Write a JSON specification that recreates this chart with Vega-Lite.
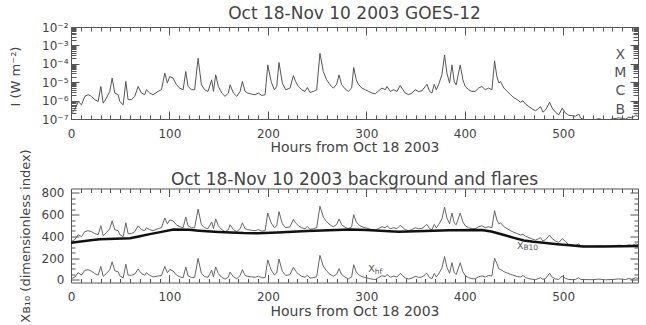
{
  "$schema": "https://vega.github.io/schema/vega-lite/v6.json",
  "background": "white",
  "padding": {"left": 8, "top": 4, "right": 6, "bottom": 2},
  "spacing": 69.5,
  "bounds": "flush",
  "datasets": {
    "goes": [
      {"hour":0.5,"logI":-6.68,"xb10":352,"xhf":11},
      {"hour":3.9,"logI":-6.50,"xb10":370,"xhf":25},
      {"hour":7.3,"logI":-6.05,"xb10":415,"xhf":66},
      {"hour":10.7,"logI":-6.23,"xb10":397,"xhf":44},
      {"hour":14.0,"logI":-5.77,"xb10":443,"xhf":87},
      {"hour":17.4,"logI":-5.68,"xb10":452,"xhf":92},
      {"hour":20.8,"logI":-5.77,"xb10":443,"xhf":79},
      {"hour":24.2,"logI":-5.95,"xb10":425,"xhf":57},
      {"hour":27.6,"logI":-6.05,"xb10":415,"xhf":43},
      {"hour":30.3,"logI":-5.23,"xb10":497,"xhf":123},
      {"hour":32.7,"logI":-6.14,"xb10":406,"xhf":31},
      {"hour":36.0,"logI":-5.86,"xb10":434,"xhf":58},
      {"hour":39.4,"logI":-5.50,"xb10":470,"xhf":93},
      {"hour":41.8,"logI":-4.78,"xb10":542,"xhf":165},
      {"hour":44.5,"logI":-5.59,"xb10":461,"xhf":83},
      {"hour":47.9,"logI":-5.68,"xb10":452,"xhf":73},
      {"hour":49.6,"logI":-6.05,"xb10":415,"xhf":36},
      {"hour":53.0,"logI":-6.23,"xb10":397,"xhf":17},
      {"hour":55.7,"logI":-4.96,"xb10":524,"xhf":143},
      {"hour":58.0,"logI":-5.95,"xb10":425,"xhf":44},
      {"hour":61.4,"logI":-5.95,"xb10":425,"xhf":40},
      {"hour":64.8,"logI":-5.77,"xb10":443,"xhf":52},
      {"hour":68.2,"logI":-5.23,"xb10":497,"xhf":99},
      {"hour":71.6,"logI":-5.59,"xb10":461,"xhf":57},
      {"hour":74.9,"logI":-5.68,"xb10":452,"xhf":42},
      {"hour":76.6,"logI":-5.41,"xb10":479,"xhf":65},
      {"hour":80.0,"logI":-5.59,"xb10":461,"xhf":41},
      {"hour":83.4,"logI":-5.68,"xb10":452,"xhf":26},
      {"hour":88.5,"logI":-5.50,"xb10":470,"xhf":35},
      {"hour":91.9,"logI":-5.41,"xb10":479,"xhf":38},
      {"hour":95.3,"logI":-4.51,"xb10":569,"xhf":122},
      {"hour":97.9,"logI":-5.05,"xb10":515,"xhf":64},
      {"hour":100.3,"logI":-4.69,"xb10":551,"xhf":95},
      {"hour":103.7,"logI":-4.78,"xb10":542,"xhf":81},
      {"hour":107.1,"logI":-5.14,"xb10":506,"xhf":44},
      {"hour":110.5,"logI":-5.32,"xb10":488,"xhf":27},
      {"hour":113.9,"logI":-5.41,"xb10":479,"xhf":18},
      {"hour":116.6,"logI":-4.42,"xb10":578,"xhf":118},
      {"hour":118.9,"logI":-5.23,"xb10":497,"xhf":37},
      {"hour":122.3,"logI":-5.41,"xb10":479,"xhf":21},
      {"hour":125.6,"logI":-5.41,"xb10":479,"xhf":23},
      {"hour":129.1,"logI":-3.70,"xb10":650,"xhf":197},
      {"hour":132.5,"logI":-5.14,"xb10":506,"xhf":56},
      {"hour":135.8,"logI":-5.41,"xb10":479,"xhf":30},
      {"hour":139.2,"logI":-5.50,"xb10":470,"xhf":23},
      {"hour":142.9,"logI":-4.87,"xb10":533,"xhf":89},
      {"hour":144.7,"logI":-5.50,"xb10":470,"xhf":27},
      {"hour":147.0,"logI":-4.60,"xb10":560,"xhf":118},
      {"hour":149.7,"logI":-5.23,"xb10":497,"xhf":57},
      {"hour":153.1,"logI":-5.59,"xb10":461,"xhf":22},
      {"hour":156.5,"logI":-5.77,"xb10":443,"xhf":6},
      {"hour":159.9,"logI":-5.59,"xb10":461,"xhf":25},
      {"hour":161.6,"logI":-5.14,"xb10":506,"xhf":71},
      {"hour":165.0,"logI":-5.59,"xb10":461,"xhf":27},
      {"hour":168.4,"logI":-5.77,"xb10":443,"xhf":10},
      {"hour":171.8,"logI":-5.50,"xb10":470,"xhf":39},
      {"hour":174.1,"logI":-4.96,"xb10":524,"xhf":94},
      {"hour":176.8,"logI":-5.50,"xb10":470,"xhf":40},
      {"hour":179.5,"logI":-5.59,"xb10":461,"xhf":32},
      {"hour":183.6,"logI":-5.65,"xb10":455,"xhf":26},
      {"hour":187.0,"logI":-5.68,"xb10":452,"xhf":24},
      {"hour":190.4,"logI":-5.59,"xb10":461,"xhf":33},
      {"hour":193.8,"logI":-5.72,"xb10":448,"xhf":19},
      {"hour":197.2,"logI":-5.68,"xb10":452,"xhf":21},
      {"hour":199.9,"logI":-4.06,"xb10":614,"xhf":183},
      {"hour":203.3,"logI":-4.96,"xb10":524,"xhf":91},
      {"hour":206.6,"logI":-5.41,"xb10":479,"xhf":45},
      {"hour":209.0,"logI":-5.23,"xb10":497,"xhf":62},
      {"hour":211.3,"logI":-3.93,"xb10":627,"xhf":191},
      {"hour":214.7,"logI":-5.05,"xb10":515,"xhf":78},
      {"hour":218.1,"logI":-5.41,"xb10":479,"xhf":40},
      {"hour":222.5,"logI":-5.32,"xb10":488,"xhf":48},
      {"hour":225.9,"logI":-4.64,"xb10":556,"xhf":114},
      {"hour":228.2,"logI":-4.96,"xb10":524,"xhf":81},
      {"hour":230.9,"logI":-5.23,"xb10":497,"xhf":53},
      {"hour":234.3,"logI":-5.41,"xb10":479,"xhf":33},
      {"hour":237.7,"logI":-5.50,"xb10":470,"xhf":23},
      {"hour":240.1,"logI":-5.29,"xb10":491,"xhf":43},
      {"hour":242.8,"logI":-5.56,"xb10":464,"xhf":15},
      {"hour":246.2,"logI":-5.50,"xb10":470,"xhf":20},
      {"hour":249.6,"logI":-5.41,"xb10":479,"xhf":28},
      {"hour":252.9,"logI":-3.43,"xb10":677,"xhf":225},
      {"hour":256.3,"logI":-4.42,"xb10":578,"xhf":125},
      {"hour":259.7,"logI":-4.87,"xb10":533,"xhf":79},
      {"hour":263.1,"logI":-5.14,"xb10":506,"xhf":51},
      {"hour":266.5,"logI":-5.32,"xb10":488,"xhf":32},
      {"hour":269.9,"logI":-5.11,"xb10":509,"xhf":52},
      {"hour":272.3,"logI":-4.60,"xb10":560,"xhf":102},
      {"hour":275.0,"logI":-5.14,"xb10":506,"xhf":47},
      {"hour":278.4,"logI":-5.36,"xb10":484,"xhf":24},
      {"hour":281.7,"logI":-5.50,"xb10":470,"xhf":9},
      {"hour":285.1,"logI":-5.32,"xb10":488,"xhf":26},
      {"hour":287.2,"logI":-4.20,"xb10":600,"xhf":139},
      {"hour":289.8,"logI":-4.87,"xb10":533,"xhf":72},
      {"hour":292.2,"logI":-5.14,"xb10":506,"xhf":46},
      {"hour":295.6,"logI":-5.32,"xb10":488,"xhf":29},
      {"hour":299.0,"logI":-5.41,"xb10":479,"xhf":21},
      {"hour":302.4,"logI":-5.50,"xb10":470,"xhf":13},
      {"hour":305.8,"logI":-5.59,"xb10":461,"xhf":6},
      {"hour":309.1,"logI":-5.63,"xb10":457,"xhf":3},
      {"hour":312.5,"logI":-5.47,"xb10":473,"xhf":21},
      {"hour":315.9,"logI":-5.32,"xb10":488,"xhf":37},
      {"hour":319.3,"logI":-5.41,"xb10":479,"xhf":30},
      {"hour":321.0,"logI":-5.23,"xb10":497,"xhf":49},
      {"hour":324.4,"logI":-5.50,"xb10":470,"xhf":23},
      {"hour":327.8,"logI":-5.41,"xb10":479,"xhf":34},
      {"hour":331.1,"logI":-5.50,"xb10":470,"xhf":26},
      {"hour":334.5,"logI":-5.18,"xb10":502,"xhf":59},
      {"hour":337.2,"logI":-5.41,"xb10":479,"xhf":35},
      {"hour":339.6,"logI":-5.59,"xb10":461,"xhf":16},
      {"hour":343.0,"logI":-5.68,"xb10":452,"xhf":7},
      {"hour":346.4,"logI":-5.59,"xb10":461,"xhf":15},
      {"hour":349.7,"logI":-5.41,"xb10":479,"xhf":32},
      {"hour":353.1,"logI":-5.50,"xb10":470,"xhf":22},
      {"hour":356.5,"logI":-5.47,"xb10":473,"xhf":25},
      {"hour":359.9,"logI":-5.23,"xb10":497,"xhf":48},
      {"hour":361.6,"logI":-5.11,"xb10":509,"xhf":59},
      {"hour":364.3,"logI":-5.50,"xb10":470,"xhf":20},
      {"hour":366.7,"logI":-5.59,"xb10":461,"xhf":10},
      {"hour":369.0,"logI":-5.11,"xb10":509,"xhf":58},
      {"hour":371.1,"logI":-5.41,"xb10":479,"xhf":27},
      {"hour":373.4,"logI":-5.14,"xb10":506,"xhf":54},
      {"hour":376.8,"logI":-4.60,"xb10":560,"xhf":107},
      {"hour":379.5,"logI":-3.52,"xb10":668,"xhf":214},
      {"hour":381.9,"logI":-4.51,"xb10":569,"xhf":115},
      {"hour":384.6,"logI":-5.05,"xb10":515,"xhf":60},
      {"hour":387.0,"logI":-4.06,"xb10":614,"xhf":158},
      {"hour":389.3,"logI":-4.96,"xb10":524,"xhf":68},
      {"hour":391.3,"logI":-5.14,"xb10":506,"xhf":49},
      {"hour":395.4,"logI":-4.06,"xb10":614,"xhf":157},
      {"hour":398.1,"logI":-4.87,"xb10":533,"xhf":75},
      {"hour":400.5,"logI":-5.23,"xb10":497,"xhf":38},
      {"hour":403.9,"logI":-5.41,"xb10":479,"xhf":20},
      {"hour":407.2,"logI":-5.50,"xb10":470,"xhf":10},
      {"hour":410.6,"logI":-5.50,"xb10":470,"xhf":9},
      {"hour":414.0,"logI":-5.32,"xb10":488,"xhf":27},
      {"hour":417.4,"logI":-5.23,"xb10":497,"xhf":36},
      {"hour":420.8,"logI":-5.41,"xb10":479,"xhf":26},
      {"hour":424.2,"logI":-5.32,"xb10":488,"xhf":39},
      {"hour":427.6,"logI":-5.41,"xb10":479,"xhf":35},
      {"hour":430.3,"logI":-3.84,"xb10":636,"xhf":199},
      {"hour":432.6,"logI":-4.69,"xb10":551,"xhf":150},
      {"hour":434.7,"logI":-5.05,"xb10":515,"xhf":100},
      {"hour":436.4,"logI":-4.96,"xb10":524,"xhf":95},
      {"hour":439.8,"logI":-5.32,"xb10":488,"xhf":75},
      {"hour":443.1,"logI":-5.50,"xb10":470,"xhf":62},
      {"hour":446.5,"logI":-5.68,"xb10":452,"xhf":50},
      {"hour":449.9,"logI":-5.84,"xb10":436,"xhf":40},
      {"hour":453.3,"logI":-5.95,"xb10":425,"xhf":30},
      {"hour":456.7,"logI":-6.09,"xb10":411,"xhf":25},
      {"hour":459.1,"logI":-6.01,"xb10":419,"xhf":40},
      {"hour":461.8,"logI":-6.19,"xb10":401,"xhf":20},
      {"hour":465.2,"logI":-6.33,"xb10":387,"xhf":10},
      {"hour":468.5,"logI":-6.45,"xb10":375,"xhf":5},
      {"hour":471.9,"logI":-6.55,"xb10":365,"xhf":2},
      {"hour":475.3,"logI":-6.41,"xb10":379,"xhf":12},
      {"hour":477.0,"logI":-6.33,"xb10":387,"xhf":20},
      {"hour":479.4,"logI":-6.63,"xb10":357,"xhf":4},
      {"hour":482.1,"logI":-6.51,"xb10":369,"xhf":12},
      {"hour":486.2,"logI":-6.09,"xb10":411,"xhf":60},
      {"hour":488.8,"logI":-6.41,"xb10":379,"xhf":25},
      {"hour":492.2,"logI":-6.63,"xb10":357,"xhf":8},
      {"hour":495.6,"logI":-6.77,"xb10":343,"xhf":3},
      {"hour":499.0,"logI":-6.41,"xb10":379,"xhf":35},
      {"hour":502.4,"logI":-6.68,"xb10":352,"xhf":12},
      {"hour":505.8,"logI":-6.80,"xb10":321,"xhf":3},
      {"hour":509.1,"logI":-6.82,"xb10":318,"xhf":2},
      {"hour":512.5,"logI":-6.85,"xb10":316,"xhf":3},
      {"hour":515.9,"logI":-6.73,"xb10":330,"xhf":20},
      {"hour":517.6,"logI":-6.94,"xb10":312,"xhf":3},
      {"hour":521.0,"logI":-7.05,"xb10":309,"xhf":2},
      {"hour":529.4,"logI":-7.08,"xb10":309,"xhf":1},
      {"hour":536.2,"logI":-6.98,"xb10":314,"xhf":6},
      {"hour":543.0,"logI":-7.08,"xb10":309,"xhf":0},
      {"hour":549.7,"logI":-7.00,"xb10":313,"xhf":3},
      {"hour":556.5,"logI":-6.94,"xb10":318,"xhf":8},
      {"hour":563.3,"logI":-7.00,"xb10":314,"xhf":3},
      {"hour":566.7,"logI":-6.90,"xb10":321,"xhf":10},
      {"hour":570.0,"logI":-6.94,"xb10":317,"xhf":5},
      {"hour":573.5,"logI":-6.80,"xb10":330,"xhf":18},
      {"hour":576.0,"logI":-6.85,"xb10":324,"xhf":12}
    ],
    "background": [
      {"hour":0,"bg":340},{"hour":10,"bg":352},{"hour":20,"bg":363},{"hour":29,"bg":374},
      {"hour":45,"bg":378},{"hour":60,"bg":382},{"hour":70,"bg":400},{"hour":80,"bg":420},
      {"hour":92,"bg":441},{"hour":104,"bg":462},{"hour":120,"bg":460},{"hour":130,"bg":452},
      {"hour":150,"bg":440},{"hour":175,"bg":430},{"hour":190,"bg":428},{"hour":210,"bg":435},
      {"hour":240,"bg":448},{"hour":284,"bg":462},{"hour":300,"bg":458},{"hour":333,"bg":443},
      {"hour":360,"bg":449},{"hour":384,"bg":455},{"hour":417,"bg":458},{"hour":427,"bg":445},
      {"hour":440,"bg":412},{"hour":450,"bg":386},{"hour":460,"bg":362},{"hour":470,"bg":349},
      {"hour":480,"bg":340},{"hour":494,"bg":328},{"hour":507,"bg":317},{"hour":520,"bg":307},
      {"hour":540,"bg":306},{"hour":560,"bg":309},{"hour":576,"bg":312}
    ],
    "classes": [
      {"hour":558,"logI":-3.5,"cls":"X"},
      {"hour":558,"logI":-4.5,"cls":"M"},
      {"hour":558,"logI":-5.5,"cls":"C"},
      {"hour":558,"logI":-6.5,"cls":"B"}
    ],
    "labels": [
      {"hour":453,"value":312,"main":"X","sub":"B10"},
      {"hour":302,"value":96,"main":"X","sub":"hf"}
    ]
  },
  "vconcat": [
    {
      "width": 567,
      "height": 92,
      "title": {"text": "Oct 18-Nov 10 2003 GOES-12", "offset": -2.2},
      "data": {"name": "goes"},
      "layer": [
        {
          "mark": {"type": "line", "color": "#555", "strokeWidth": 1, "clip": true},
          "encoding": {
            "x": {"field": "hour", "type": "quantitative", "scale": {"domain": [0, 576], "nice": false, "zero": false},
                  "axis": {"orient": "bottom", "values": [0,100,200,300,400,500], "ticks": false, "labelPadding": 9.2, "labelFlush": false, "labelOverlap": false, "title": "Hours from Oct 18 2003", "titleFontSize": 14, "titlePadding": 1.5}},
            "y": {"field": "logI", "type": "quantitative", "scale": {"domain": [-7, -2], "nice": false, "zero": false},
                  "axis": {"orient": "left", "values": [-7,-6,-5,-4,-3,-2], "ticks": false, "labelPadding": 3, "labelOverlap": false,
                           "labelExpr": "datum.value == -2 ? '10⁻²' : datum.value == -3 ? '10⁻³' : datum.value == -4 ? '10⁻⁴' : datum.value == -5 ? '10⁻⁵' : datum.value == -6 ? '10⁻⁶' : '10⁻⁷'",
                           "title": "I (W m⁻²)", "titleFontSize": 13, "titleX": -49, "titleY": 49}}
          }
        },
        {
          "data": {"name": "classes"},
          "mark": {"type": "text", "fontSize": 14, "color": "#555", "align": "center", "baseline": "middle", "font": "DejaVu Sans"},
          "encoding": {
            "x": {"field": "hour", "type": "quantitative", "scale": {"domain": [0, 576], "nice": false, "zero": false},
                  "axis": {"orient": "bottom", "values": [0,100,200,300,400,500], "labels": false, "tickSize": -8, "title": null}},
            "y": {"field": "logI", "type": "quantitative", "scale": {"domain": [-7, -2], "nice": false, "zero": false},
                  "axis": {"orient": "left", "values": [-7,-6,-5,-4,-3,-2], "labels": false, "tickSize": -8, "title": null}},
            "text": {"field": "cls"}
          }
        },
        {
          "mark": {"type": "line", "opacity": 0},
          "encoding": {
            "x": {"field": "hour", "type": "quantitative", "scale": {"domain": [0, 576], "nice": false, "zero": false},
                  "axis": {"orient": "top", "values": [0,100,200,300,400,500], "labels": false, "tickSize": -8, "title": null}},
            "y": {"field": "logI", "type": "quantitative", "scale": {"domain": [-7, -2], "nice": false, "zero": false},
                  "axis": {"orient": "right", "values": [-7,-6,-5,-4,-3,-2], "labels": false, "tickSize": -8, "title": null}}
          }
        },
        {
          "mark": {"type": "line", "opacity": 0},
          "encoding": {
            "x": {"field": "hour", "type": "quantitative", "scale": {"domain": [0, 576], "nice": false, "zero": false},
                  "axis": {"orient": "bottom", "values": [10,20,30,40,50,60,70,80,90,110,120,130,140,150,160,170,180,190,210,220,230,240,250,260,270,280,290,310,320,330,340,350,360,370,380,390,410,420,430,440,450,460,470,480,490,510,520,530,540,550,560,570], "labels": false, "tickSize": -4, "title": null}},
            "y": {"field": "logI", "type": "quantitative", "scale": {"domain": [-7, -2], "nice": false, "zero": false},
                  "axis": {"orient": "left", "values": [-6.699,-6.523,-6.398,-6.301,-6.222,-6.155,-6.097,-6.046,-5.699,-5.523,-5.398,-5.301,-5.222,-5.155,-5.097,-5.046,-4.699,-4.523,-4.398,-4.301,-4.222,-4.155,-4.097,-4.046,-3.699,-3.523,-3.398,-3.301,-3.222,-3.155,-3.097,-3.046,-2.699,-2.523,-2.398,-2.301,-2.222,-2.155,-2.097,-2.046], "labels": false, "tickSize": -5, "title": null}}
          }
        },
        {
          "mark": {"type": "line", "opacity": 0},
          "encoding": {
            "x": {"field": "hour", "type": "quantitative", "scale": {"domain": [0, 576], "nice": false, "zero": false},
                  "axis": {"orient": "top", "values": [10,20,30,40,50,60,70,80,90,110,120,130,140,150,160,170,180,190,210,220,230,240,250,260,270,280,290,310,320,330,340,350,360,370,380,390,410,420,430,440,450,460,470,480,490,510,520,530,540,550,560,570], "labels": false, "tickSize": -4, "title": null}},
            "y": {"field": "logI", "type": "quantitative", "scale": {"domain": [-7, -2], "nice": false, "zero": false},
                  "axis": {"orient": "right", "values": [-6.699,-6.523,-6.398,-6.301,-6.222,-6.155,-6.097,-6.046,-5.699,-5.523,-5.398,-5.301,-5.222,-5.155,-5.097,-5.046,-4.699,-4.523,-4.398,-4.301,-4.222,-4.155,-4.097,-4.046,-3.699,-3.523,-3.398,-3.301,-3.222,-3.155,-3.097,-3.046,-2.699,-2.523,-2.398,-2.301,-2.222,-2.155,-2.097,-2.046], "labels": false, "tickSize": -5, "title": null}}
          }
        }
      ],
      "resolve": {"axis": {"x": "independent", "y": "independent"}}
    },
    {
      "width": 567,
      "height": 94,
      "title": {"text": "Oct 18-Nov 10 2003 background and flares", "offset": -40.5},
      "data": {"name": "goes"},
      "layer": [
        {
          "mark": {"type": "line", "color": "#666", "strokeWidth": 1, "clip": true},
          "encoding": {
            "x": {"field": "hour", "type": "quantitative", "scale": {"domain": [0, 576], "nice": false, "zero": false},
                  "axis": {"orient": "bottom", "values": [0,100,200,300,400,500], "ticks": false, "labelPadding": 8.5, "labelFlush": false, "labelOverlap": false, "title": "Hours from Oct 18 2003", "titleFontSize": 14, "titlePadding": 2.5}},
            "y": {"field": "xb10", "type": "quantitative", "scale": {"domain": [-25, 840], "nice": false, "zero": false},
                  "axis": {"orient": "left", "values": [0,200,400,600,800], "ticks": false, "labelPadding": 7, "labelOverlap": false, "title": "Xʙ₁₀ (dimensionless index)", "titleFontSize": 13, "titleX": -38.5, "titleY": 47}}
          }
        },
        {
          "mark": {"type": "line", "color": "#666", "strokeWidth": 1, "clip": true},
          "encoding": {
            "x": {"field": "hour", "type": "quantitative", "scale": {"domain": [0, 576], "nice": false, "zero": false},
                  "axis": {"orient": "bottom", "values": [0,100,200,300,400,500], "labels": false, "tickSize": -8, "title": null}},
            "y": {"field": "xhf", "type": "quantitative", "scale": {"domain": [-25, 840], "nice": false, "zero": false},
                  "axis": {"orient": "left", "values": [0,200,400,600,800], "labels": false, "tickSize": -8, "title": null}}
          }
        },
        {
          "data": {"name": "background"},
          "mark": {"type": "line", "color": "#111", "strokeWidth": 2.5, "clip": true},
          "encoding": {
            "x": {"field": "hour", "type": "quantitative", "scale": {"domain": [0, 576], "nice": false, "zero": false},
                  "axis": {"orient": "top", "values": [0,100,200,300,400,500], "labels": false, "tickSize": -8, "title": null}},
            "y": {"field": "bg", "type": "quantitative", "scale": {"domain": [-25, 840], "nice": false, "zero": false},
                  "axis": {"orient": "right", "values": [0,200,400,600,800], "labels": false, "tickSize": -8, "title": null}}
          }
        },
        {
          "data": {"name": "labels"},
          "mark": {"type": "text", "fontSize": 9.5, "color": "#555", "align": "left", "baseline": "middle", "font": "DejaVu Sans"},
          "encoding": {
            "x": {"field": "hour", "type": "quantitative", "scale": {"domain": [0, 576], "nice": false, "zero": false},
                  "axis": {"orient": "bottom", "values": [10,20,30,40,50,60,70,80,90,110,120,130,140,150,160,170,180,190,210,220,230,240,250,260,270,280,290,310,320,330,340,350,360,370,380,390,410,420,430,440,450,460,470,480,490,510,520,530,540,550,560,570], "labels": false, "tickSize": -4, "title": null}},
            "y": {"field": "value", "type": "quantitative", "scale": {"domain": [-25, 840], "nice": false, "zero": false},
                  "axis": {"orient": "left", "values": [50,100,150,250,300,350,450,500,550,650,700,750], "labels": false, "tickSize": -4, "title": null}},
            "text": {"field": "main"}
          }
        },
        {
          "data": {"name": "labels"},
          "mark": {"type": "text", "fontSize": 7.5, "color": "#555", "align": "left", "baseline": "middle", "dx": 6.5, "dy": 2.5, "font": "DejaVu Sans"},
          "encoding": {
            "x": {"field": "hour", "type": "quantitative", "scale": {"domain": [0, 576], "nice": false, "zero": false},
                  "axis": {"orient": "top", "values": [10,20,30,40,50,60,70,80,90,110,120,130,140,150,160,170,180,190,210,220,230,240,250,260,270,280,290,310,320,330,340,350,360,370,380,390,410,420,430,440,450,460,470,480,490,510,520,530,540,550,560,570], "labels": false, "tickSize": -4, "title": null}},
            "y": {"field": "value", "type": "quantitative", "scale": {"domain": [-25, 840], "nice": false, "zero": false},
                  "axis": {"orient": "right", "values": [50,100,150,250,300,350,450,500,550,650,700,750], "labels": false, "tickSize": -4, "title": null}},
            "text": {"field": "sub"}
          }
        }
      ],
      "resolve": {"axis": {"x": "independent", "y": "independent"}}
    }
  ],
  "config": {
    "font": "DejaVu Sans",
    "view": {"stroke": "#555", "strokeWidth": 1},
    "axis": {"labelFont": "DejaVu Sans", "titleFont": "DejaVu Sans", "labelFontSize": 12, "titleFontSize": 13.5, "titleFontWeight": "normal", "labelColor": "#444", "titleColor": "#444", "tickColor": "#555", "tickWidth": 1, "grid": false, "domain": false},
    "title": {"font": "DejaVu Sans", "fontSize": 17, "fontWeight": "normal", "color": "#444", "anchor": "middle"}
  }
}
